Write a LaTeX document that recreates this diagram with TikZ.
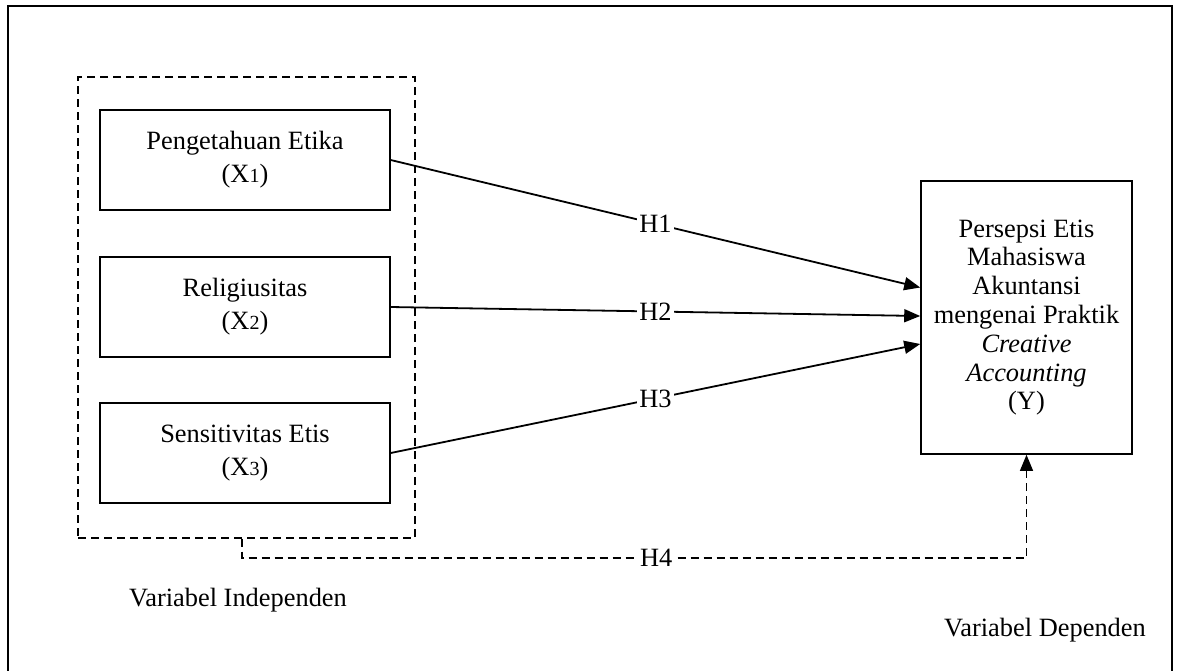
\documentclass[tikz,border=0pt]{standalone}
\usepackage{fontspec}
\setmainfont{Liberation Serif}
\usetikzlibrary{arrows.meta}
\def\sub#1{{\fontsize{10}{10}\selectfont #1}}
\tikzset{
  varbox/.style={draw, line width=0.7pt, minimum width=145pt, minimum height=50pt,
    inner sep=0pt, align=center, font=\fontsize{13.2}{16.5}\selectfont},
  hlab/.style={fill=white, inner sep=1pt, font=\fontsize{13.2}{14}\selectfont},
  hlink/.style={line width=0.9pt, -{Triangle[length=8pt,width=6.5pt]}}
}
\begin{document}
\begin{tikzpicture}[x=0.5pt, y=-0.5pt]
\useasboundingbox (0,0) rectangle (1182,670);
\fill[white] (0,0) rectangle (1182,670);
\draw[line width=1.2pt] (8,672) -- (8,6) -- (1172,6) -- (1172,672);
\node[draw, dash pattern=on 4pt off 2.5pt, line width=0.6pt, minimum width=168.5pt,
  minimum height=230.5pt, inner sep=0pt] (indep) at (246.5,307.5) {};
\node[varbox] (x1) at (245,160) {Pengetahuan Etika\\(X\sub{1})};
\node[varbox] (x2) at (245,307) {Religiusitas\\(X\sub{2})};
\node[varbox] (x3) at (245,453) {Sensitivitas Etis\\(X\sub{3})};
\node[draw, line width=0.8pt, minimum width=105.5pt, minimum height=136.5pt, inner sep=0pt,
  align=center, font=\fontsize{13.2}{14.4}\selectfont] (y) at (1026.5,317.5)
  {Persepsi Etis\\Mahasiswa\\Akuntansi\\mengenai Praktik\\\textit{Creative}\\\textit{Accounting}\\(Y)};
\draw[hlink] (x1.east) -- node[hlab]{H1} ([yshift=15pt]y.west);
\draw[hlink] (x2.east) -- node[hlab]{H2} ([yshift=0.75pt]y.west);
\draw[hlink] (x3.east) -- node[hlab]{H3} ([yshift=-13.25pt]y.west);
\draw[hlink, line width=0.6pt, dash pattern=on 4pt off 2.5pt]
  ([xshift=-2.25pt]indep.south) |- node[hlab, pos=0.764]{H4} (y.south |- 0,558) -- (y.south);
\node[font=\fontsize{13.2}{14}\selectfont] (lind) at (238,600) {Variabel Independen};
\node[font=\fontsize{13.2}{14}\selectfont] (ldep) at (1045,630) {Variabel Dependen};
\end{tikzpicture}
\end{document}
